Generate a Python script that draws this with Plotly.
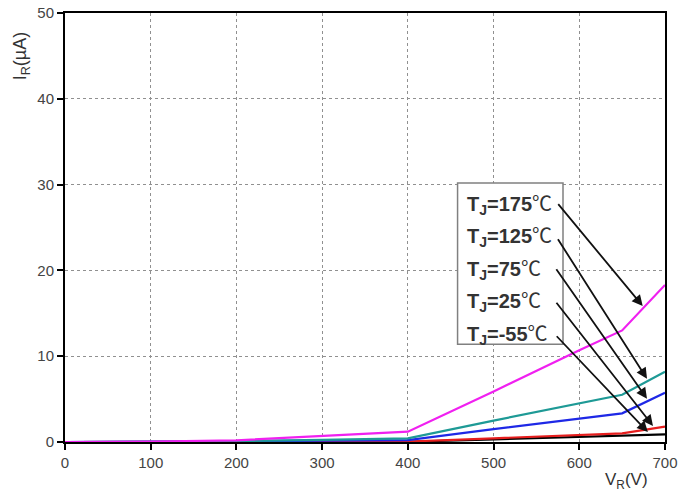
import numpy as np
import plotly.graph_objects as go

# Reverse voltage (V)
VR = [0, 100, 200, 300, 400, 500, 600, 650, 700]
# Reverse current (uA) per junction temperature
IR_175 = [0, 0.05, 0.2, 0.7, 1.2, 5.9, 10.7, 13.0, 18.3]
IR_125 = [0, 0.02, 0.1, 0.25, 0.43, 2.5, 4.5, 5.5, 8.2]
IR_75 = [0, 0.02, 0.08, 0.15, 0.23, 1.5, 2.76, 3.34, 5.75]
IR_25 = [0, 0.01, 0.02, 0.03, 0.05, 0.43, 0.8, 1.0, 1.8]
IR_m55 = [0, 0.0, 0.01, 0.02, 0.03, 0.3, 0.6, 0.8, 0.9]

temps = ["175", "125", "75", "25", "-55"]
series = [IR_175, IR_125, IR_75, IR_25, IR_m55]
colors = ["#f020f0", "#1e9a96", "#1e28e6", "#e61e1e", "#000000"]

# label rows, arrow starts and arrow targets (data units)
label_y = [27.9, 24.1, 20.3, 16.55, 12.7]
arrow_start_x = [574, 574, 572, 572, 572]
arrow_start_y = [27.9, 23.8, 20.3, 16.4, 12.5]
arrow_end_v = [674, 679, 679, 686, 680]

FONT = "Liberation Sans, Arial, sans-serif"
CJK = "Noto Sans CJK SC"

fig = go.Figure()
for s, c in zip(series[::-1], colors[::-1]):
    fig.add_trace(go.Scatter(x=VR, y=s, mode="lines",
                             line=dict(color=c, width=2.2), showlegend=False,
                             hoverinfo="skip"))

# legend box
fig.add_shape(type="rect", x0=458, x1=581, y0=11.4, y1=30.2, xref="x", yref="y",
              line=dict(color="#808080", width=1.5), fillcolor="white", layer="above")

for t, ly, sx, sy, ev, s in zip(temps, label_y, arrow_start_x, arrow_start_y,
                                arrow_end_v, series):
    lab = ("<b>T<sub>J</sub>=" + t + "</b>"
           + "<span style='font-family:" + CJK + ";font-weight:normal'>℃</span>")
    fig.add_annotation(x=467, y=ly, xref="x", yref="y", text=lab,
                       showarrow=False, xanchor="left", yanchor="middle",
                       font=dict(family=FONT, size=20, color="#333"))
    ey = float(np.interp(ev, VR, s))
    fig.add_annotation(x=ev, y=ey + 0.3, ax=sx, ay=sy, xref="x", yref="y",
                       axref="x", ayref="y", text="", showarrow=True,
                       arrowhead=2, arrowsize=1.2, arrowwidth=1.8, arrowcolor="#111")

fig.add_annotation(x=-0.072, y=1.0, xref="paper", yref="paper",
                   text="I<sub>R</sub>(µA)", textangle=-90, showarrow=False,
                   xanchor="center", yanchor="top", yshift=-16,
                   font=dict(family=FONT, size=18, color="#333"))
fig.add_annotation(x=0.935, y=0, xref="paper", yref="paper",
                   text="V<sub>R</sub>(V)", showarrow=False,
                   xanchor="center", yanchor="top", yshift=-26,
                   font=dict(family=FONT, size=17, color="#333"))

axis_common = dict(showline=True, linecolor="black", linewidth=2, mirror=True,
                   ticks="outside", ticklen=6, tickwidth=2, tickcolor="black",
                   showgrid=True, gridcolor="#909090", griddash="dot", gridwidth=1,
                   zeroline=False, automargin=False,
                   tickfont=dict(family=FONT, size=15, color="#444"))

fig.update_layout(
    width=693, height=500,
    margin=dict(l=65, r=28, t=13, b=58, autoexpand=False),
    plot_bgcolor="white", paper_bgcolor="white",
    xaxis=dict(range=[0, 700], dtick=100, **axis_common),
    yaxis=dict(range=[0, 50], dtick=10, **axis_common),
)
fig.write_html("out.html", config={"displayModeBar": False},
               post_script="document.body.style.margin='0';")
